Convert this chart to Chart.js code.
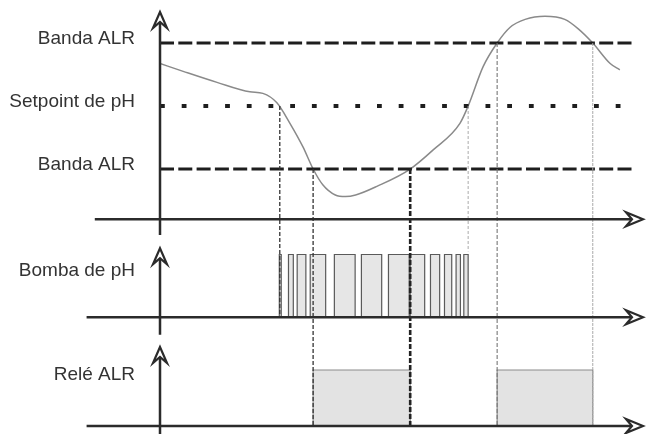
<!DOCTYPE html>
<html>
<head>
<meta charset="utf-8">
<script src="https://cdn.jsdelivr.net/npm/chart.js@4.4.0/dist/chart.umd.min.js"></script>
<style>
  html, body { margin: 0; padding: 0; background: #fff; }
</style>
</head>
<body>
<canvas id="alrChart" width="648" height="434"></canvas>
<script>
// Time runs from 0 (y axis) to 100 (arrow tip)
const phTimes  = [0, 4.8, 11.8, 18.6, 21.3, 24.2, 26.9, 29.6, 31.7, 33.7, 36.3, 38.4, 40.5, 44.9, 51.8, 56.5, 62.1, 63.8, 66.9, 69.8, 72.5, 75.6, 79.7, 83.8, 86.6, 89.6, 93.2, 95.2];
const phValues = [7.47, 7.42, 7.35, 7.29, 7.28, 7.22, 7.09, 6.94, 6.80, 6.70, 6.635, 6.625, 6.635, 6.69, 6.80, 6.92, 7.09, 7.20, 7.45, 7.60, 7.70, 7.75, 7.77, 7.75, 7.69, 7.60, 7.47, 7.43];

const setpointPH = 7.2;
const bandHighPH = 7.6;
const bandLowPH = 6.8;
const levelEndTime = 98.3;

// pump pulses (on/off times)
const pumpStarts = [24.7, 26.6, 28.4, 31.1, 36.1, 41.7, 47.3, 51.8, 56.0, 58.9, 61.3, 62.9];
const pumpEnds   = [25.1, 27.6, 30.2, 34.3, 40.4, 45.9, 51.6, 54.8, 57.9, 60.4, 62.2, 63.8];

// alarm relay
const relayStarts = [31.7, 69.8];
const relayEnds   = [51.8, 89.6];

// times where the curve crosses a level
const crossTimes = [24.8, 31.7, 51.8, 63.8, 69.8, 89.6];

const phTickValues = [7.6, 7.2, 6.8];
const phTickLabels = ['Banda ALR', 'Setpoint de pH', 'Banda ALR'];
const pumpTickValues = [0.67];
const pumpTickLabels = ['Bomba de pH'];
const relayTickValues = [0.84];
const relayTickLabels = ['Relé ALR'];

const FONT = "'Liberation Sans', Arial, sans-serif";

function pulsePoints(starts, ends) {
    const pts = [];
    starts.forEach((s, i) => {
        pts.push({x: s, y: 0}, {x: s, y: 1}, {x: ends[i], y: 1}, {x: ends[i], y: 0});
    });
    return pts;
}

function levelLine(value) {
    return [{x: 0, y: value}, {x: levelEndTime, y: value}];
}

function panelScale(min, max, weight, stackWeight, values, labels) {
    return {
        type: 'linear',
        position: 'left',
        stack: 'panels',
        stackWeight: stackWeight,
        weight: weight,
        min: min,
        max: max,
        grid: { display: false, drawTicks: false },
        border: { display: false },
        ticks: {
            autoSkip: false,
            padding: 25,
            labelOffset: -4,
            color: '#333',
            font: { family: FONT, size: 19 },
            callback: (v, i) => labels[i]
        },
        afterBuildTicks: s => { s.ticks = values.map(v => ({ value: v })); },
        afterFit: s => {
            s.width = 160;
            // labels sit inside the panel, no extra room needed
            s.paddingTop = 0;
            s.paddingBottom = 0;
        }
    };
}

function arrowRight(ctx, tipX, y) {
    ctx.beginPath();
    ctx.moveTo(tipX, y);
    ctx.lineTo(tipX - 17, y - 7);
    ctx.lineTo(tipX - 11, y);
    ctx.lineTo(tipX - 17, y + 7);
    ctx.closePath();
    ctx.fillStyle = '#fff';
    ctx.fill();
    ctx.stroke();
}

function arrowUp(ctx, x, tipY) {
    ctx.beginPath();
    ctx.moveTo(x, tipY);
    ctx.lineTo(x - 7, tipY + 16);
    ctx.lineTo(x, tipY + 10);
    ctx.lineTo(x + 7, tipY + 16);
    ctx.closePath();
    ctx.fillStyle = '#fff';
    ctx.fill();
    ctx.stroke();
}

// Guide lines and arrowed axes for the three panels
const diagramPlugin = {
    id: 'diagram',
    afterDatasetsDraw(chart) {
        const { ctx } = chart;
        const { x, yPH, yPump, yRelay } = chart.scales;

        const guides = [
            { t: crossTimes[0], from: yPH.getPixelForValue(setpointPH), to: yPump.getPixelForValue(0), color: '#333', width: 1.3, dash: [4, 2] },
            { t: crossTimes[1], from: yPH.getPixelForValue(bandLowPH), to: yRelay.getPixelForValue(0), color: '#333', width: 1.3, dash: [4, 2] },
            { t: crossTimes[2], from: yPH.getPixelForValue(bandLowPH), to: yRelay.getPixelForValue(0), color: '#222', width: 2.6, dash: [5, 2] },
            { t: crossTimes[3], from: yPH.getPixelForValue(setpointPH), to: yPump.getPixelForValue(1.05), color: '#aaa', width: 1, dash: [3, 2] },
            { t: crossTimes[4], from: yPH.getPixelForValue(bandHighPH), to: yRelay.getPixelForValue(0), color: '#777', width: 1.1, dash: [4, 2] },
            { t: crossTimes[5], from: yPH.getPixelForValue(bandHighPH), to: yRelay.getPixelForValue(0), color: '#aaa', width: 1, dash: [3, 1] }
        ];

        ctx.save();
        guides.forEach(g => {
            const px = x.getPixelForValue(g.t);
            ctx.beginPath();
            ctx.setLineDash(g.dash);
            ctx.strokeStyle = g.color;
            ctx.lineWidth = g.width;
            ctx.moveTo(px, g.from);
            ctx.lineTo(px, g.to);
            ctx.stroke();
        });
        ctx.setLineDash([]);

        // axes
        const x0 = x.getPixelForValue(0);
        const xTip = x.getPixelForValue(100);
        const panels = [
            { scale: yPH, base: 6.481, bottom: yPH.min, tip: 7.797, start: -13.5 },
            { scale: yPump, base: 0, bottom: -0.28, tip: 1.10, start: -15.2 },
            { scale: yRelay, base: 0, bottom: yRelay.min, tip: 1.41, start: -15.2 }
        ];
        ctx.strokeStyle = '#2b2b2b';
        ctx.lineJoin = 'miter';
        panels.forEach(p => {
            const yb = p.scale.getPixelForValue(p.base);
            const yTop = p.scale.getPixelForValue(p.tip);
            ctx.lineWidth = 2.5;
            ctx.beginPath();
            ctx.moveTo(x.getPixelForValue(p.start), yb);
            ctx.lineTo(xTip - 12, yb);
            ctx.moveTo(x0, p.scale.getPixelForValue(p.bottom));
            ctx.lineTo(x0, yTop + 10);
            ctx.stroke();
            ctx.lineWidth = 2.2;
            arrowRight(ctx, xTip, yb);
            arrowUp(ctx, x0, yTop);
        });
        ctx.restore();
    }
};

const ctx = document.getElementById('alrChart');

new Chart(ctx, {
    type: 'line',
    data: {
        datasets: [
            {
                label: 'Banda ALR alta',
                data: levelLine(bandHighPH),
                yAxisID: 'yPH',
                borderColor: '#1e1e1e',
                borderWidth: 3.2,
                borderDash: [14, 4.3],
                pointRadius: 0
            },
            {
                label: 'Setpoint de pH',
                data: levelLine(setpointPH),
                yAxisID: 'yPH',
                borderColor: '#1e1e1e',
                borderWidth: 4,
                borderDash: [4.8, 16.9],
                pointRadius: 0
            },
            {
                label: 'Banda ALR baja',
                data: levelLine(bandLowPH),
                yAxisID: 'yPH',
                borderColor: '#1e1e1e',
                borderWidth: 3.2,
                borderDash: [14, 4.3],
                pointRadius: 0
            },
            {
                label: 'pH',
                data: phTimes.map((t, i) => ({ x: t, y: phValues[i] })),
                yAxisID: 'yPH',
                borderColor: '#8a8a8a',
                borderWidth: 1.5,
                cubicInterpolationMode: 'monotone',
                pointRadius: 0
            },
            {
                label: 'Bomba de pH',
                data: pulsePoints(pumpStarts, pumpEnds),
                yAxisID: 'yPump',
                borderColor: '#5a5a5a',
                borderWidth: 1.2,
                backgroundColor: '#e6e6e6',
                fill: 'origin',
                tension: 0,
                pointRadius: 0
            },
            {
                label: 'Relé ALR',
                data: pulsePoints(relayStarts, relayEnds),
                yAxisID: 'yRelay',
                borderColor: '#8c8c8c',
                borderWidth: 1.2,
                backgroundColor: '#e3e3e3',
                fill: 'origin',
                tension: 0,
                pointRadius: 0
            }
        ]
    },
    options: {
        responsive: false,
        animation: false,
        layout: { padding: { left: 0, right: 5, top: 0, bottom: 0 } },
        plugins: {
            legend: { display: false },
            title: { display: false },
            tooltip: { enabled: false }
        },
        scales: {
            x: { type: 'linear', min: 0, max: 100, display: false },
            yPH: panelScale(6.381, 7.873, 3, 235, phTickValues, phTickLabels),
            yPump: panelScale(-0.298, 1.311, 2, 101, pumpTickValues, pumpTickLabels),
            yRelay: panelScale(-0.143, 1.607, 1, 98, relayTickValues, relayTickLabels)
        }
    },
    plugins: [diagramPlugin]
});
</script>
</body>
</html>
